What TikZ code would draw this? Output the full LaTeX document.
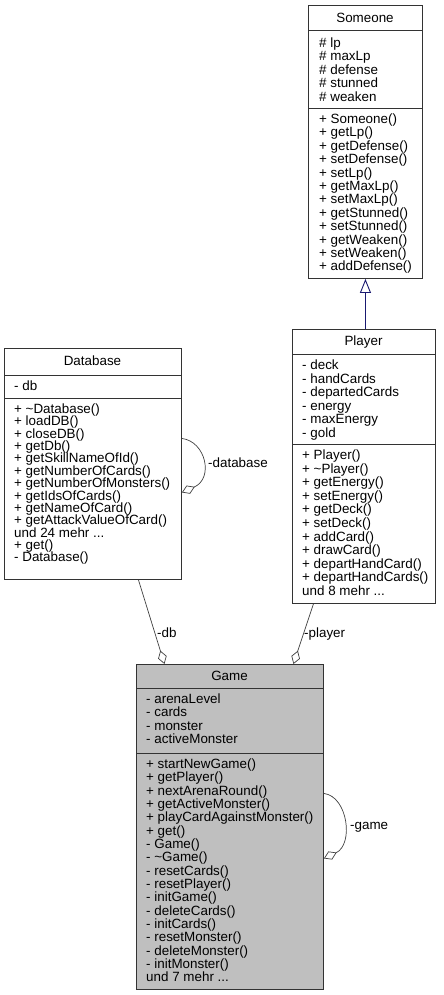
\documentclass[tikz,border=0pt]{standalone}
\usepackage{fontspec}
\setmainfont{Liberation Sans}
\usetikzlibrary{arrows.meta}
\definecolor{edgegray}{HTML}{404040}
\definecolor{navyedge}{HTML}{191970}
\definecolor{gamefill}{HTML}{BFBFBF}
\definecolor{boxline}{HTML}{333333}
\newcommand\umlfont{\fontsize{13.4}{13.4}\selectfont}
\newcommand\mehrdots{.\kern0pt.\kern0pt.}
\tikzset{
  classbox/.style={draw=boxline, line width=0.9pt, inner sep=0pt, anchor=north west},
  member/.style={anchor=base west, inner sep=0pt, font=\umlfont},
  classtitle/.style={anchor=base, inner sep=0pt, font=\umlfont},
  sepline/.style={draw=boxline, line width=0.9pt},
  agg/.style={draw=edgegray, line width=0.7pt, -{Diamond[open, length=14pt, width=9pt]}},
  inherit/.style={draw=navyedge, line width=0.9pt, -{Triangle[open, length=14pt, width=11pt]}},
  edgelabel/.style={anchor=base west, inner sep=0pt, font=\umlfont},
}
\newcommand\memberlist[5]{%
  \foreach \txt [count=\i] in {#5} {
    \node[member] (#1\i) at ({#2},{#3+(\i-1)*#4}) {\txt};
  }}
\begin{document}
\begin{tikzpicture}[x=1pt,y=-1pt]
\useasboundingbox (0,0) rectangle (444,995);

% ---------- Someone ----------
\node[classbox, minimum width=114pt, minimum height=273pt] (someone) at (308,5) {};
\draw[sepline] (someone.west |- 0,30) -- (someone.east |- 0,30);
\draw[sepline] (someone.west |- 0,108) -- (someone.east |- 0,108);
\node[classtitle] (someone-t) at (365,22.5) {Someone};
\memberlist{someone-a}{319}{47.5}{13.4}{\# lp, \# maxLp, \# defense, \# stunned, \# weaken}
\memberlist{someone-m}{319}{123.5}{13.4}{+ Someone(), + getLp(), + getDefense(), + setDefense(), + setLp(), + getMaxLp(), + setMaxLp(), + getStunned(), + setStunned(), + getWeaken(), + setWeaken(), + addDefense()}

% ---------- Player ----------
\node[classbox, minimum width=143pt, minimum height=274pt] (player) at (292,329) {};
\draw[sepline] (player.west |- 0,354) -- (player.east |- 0,354);
\draw[sepline] (player.west |- 0,444) -- (player.east |- 0,444);
\node[classtitle] (player-t) at (363.5,345.5) {Player};
\memberlist{player-a}{302}{369.5}{13.5}{- deck, - handCards, - departedCards, - energy, - maxEnergy, - gold}
\memberlist{player-m}{302}{459.5}{13.6}{+ Player(), + \textasciitilde Player(), + getEnergy(), + setEnergy(), + getDeck(), + setDeck(), + addCard(), + drawCard(), + departHandCard(), + departHandCards(), {und 8 mehr \mehrdots}}

% ---------- Database ----------
\node[classbox, minimum width=177pt, minimum height=231pt] (database) at (4,348) {};
\draw[sepline] (database.west |- 0,375) -- (database.east |- 0,375);
\draw[sepline] (database.west |- 0,398) -- (database.east |- 0,398);
\node[classtitle] (database-t) at (92.5,365.5) {Database};
\memberlist{database-a}{14}{390.5}{12.4}{- db}
\memberlist{database-m}{14}{413.5}{12.36}{+ \textasciitilde Database(), + loadDB(), + closeDB(), + getDb(), + getSkillNameOfId(), + getNumberOfCards(), + getNumberOfMonsters(), + getIdsOfCards(), + getNameOfCard(), + getAttackValueOfCard(), {und 24 mehr \mehrdots}, + get(), - Database()}

% ---------- Game ----------
\node[classbox, fill=gamefill, minimum width=187pt, minimum height=325pt] (game) at (136,664) {};
\draw[sepline] (game.west |- 0,688) -- (game.east |- 0,688);
\draw[sepline] (game.west |- 0,753) -- (game.east |- 0,753);
\node[classtitle] (game-t) at (229.5,680.5) {Game};
\memberlist{game-a}{146}{703.5}{13.3}{- arenaLevel, - cards, - monster, - activeMonster}
\memberlist{game-m}{146}{768.5}{13.33}{+ startNewGame(), + getPlayer(), + nextArenaRound(), + getActiveMonster(), + playCardAgainstMonster(), + get(), - Game(), - \textasciitilde Game(), - resetCards(), - resetPlayer(), - initGame(), - deleteCards(), - initCards(), - resetMonster(), - deleteMonster(), - initMonster(), {und 7 mehr \mehrdots}}

% ---------- connectors ----------
\draw[inherit] (player.north -| someone.south) -- (someone.south);
\draw[agg] ([xshift=45.5pt]database.south) -- ([xshift=-65.5pt]game.north);
\node[edgelabel] (lbl-db) at (157,637.5) {-db};
\draw[agg] ([xshift=-50.5pt]player.south) -- ([xshift=63.5pt]game.north);
\node[edgelabel] (lbl-player) at (304,637.5) {-player};
\draw[agg] ([yshift=25.5pt]database.east) .. controls +(24,3) and +(32,-14) .. ([yshift=-28.5pt]database.east);
\node[edgelabel] (lbl-database) at (208,467.5) {-database};
\draw[agg] ([yshift=33.5pt]game.east) .. controls +(24,3) and +(30,-14) .. ([yshift=-31.5pt]game.east);
\node[edgelabel] (lbl-game) at (350,829.5) {-game};
\end{tikzpicture}
\end{document}
